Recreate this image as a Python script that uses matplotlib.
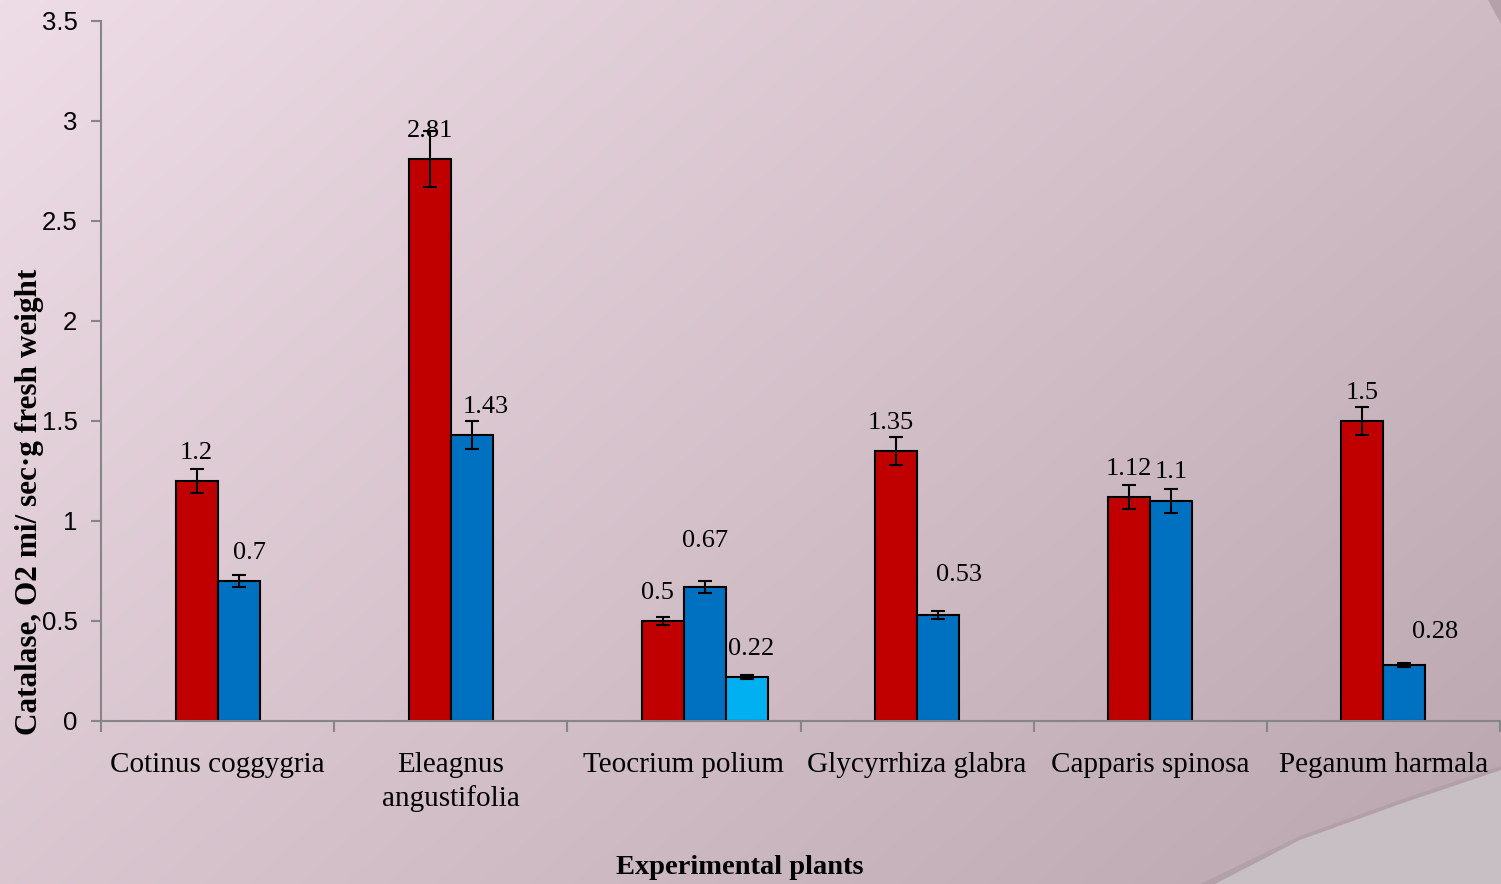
import numpy as np
import matplotlib
matplotlib.use('Agg')
import matplotlib.pyplot as plt
from matplotlib.patches import Polygon

plants = ['Cotinus coggygria', 'Eleagnus\nangustifolia', 'Teocrium polium',
          'Glycyrrhiza glabra', 'Capparis spinosa', 'Peganum harmala']
series1 = [1.2, 2.81, 0.5, 1.35, 1.12, 1.5]
series2 = [0.7, 1.43, 0.67, 0.53, 1.1, 0.28]
series3 = [None, None, 0.22, None, None, None]
err1 = [0.06, 0.14, 0.02, 0.07, 0.06, 0.07]
err2 = [0.03, 0.07, 0.03, 0.02, 0.06, 0.01]
err3 = [None, None, 0.01, None, None, None]
yticks = [0, 0.5, 1, 1.5, 2, 2.5, 3, 3.5]
ytick_labels = ['0', '0.5', '1', '1.5', '2', '2.5', '3', '3.5']

serif = ['Liberation Serif', 'DejaVu Serif']
sans = ['Liberation Sans', 'DejaVu Sans']

fig = plt.figure(figsize=(15.01, 8.84), dpi=100)

# background gradient
bg = fig.add_axes([0, 0, 1, 1], zorder=-5)
gx, gy = np.meshgrid(np.linspace(0, 1, 300), np.linspace(0, 1, 200))
t = np.clip(0.6 * gx + 0.4 * gy, 0, 1)
c0 = np.array([238, 220, 230]) / 255
c1 = np.array([186, 166, 174]) / 255
img = c0[None, None, :] * (1 - t[..., None]) + c1[None, None, :] * t[..., None]
bg.imshow(img, extent=[0, 1, 0, 1], aspect='auto', origin='upper')
# page curl in the bottom right corner
shadow = Polygon([[1200 / 1501, 0], [1300 / 1501, 48 / 884], [1400 / 1501, 84 / 884],
                  [1, 118 / 884], [1, 0]], closed=True, facecolor='#a8969e',
                  edgecolor='none', alpha=0.5)
bg.add_patch(shadow)
curl = Polygon([[1215 / 1501, 0], [1300 / 1501, 44 / 884], [1400 / 1501, 80 / 884],
                [1, 114 / 884], [1, 0]], closed=True, facecolor='#c7bfc3', edgecolor='none')
bg.add_patch(curl)
corner = Polygon([[1488 / 1501, 1], [1501 / 1501, 1], [1, 860 / 884]], closed=True,
                 facecolor='#9c8a93', edgecolor='none', alpha=0.5)
bg.add_patch(corner)
bg.set_xlim(0, 1)
bg.set_ylim(0, 1)
bg.axis('off')

ax = fig.add_axes([101 / 1501, 163 / 884, 1399 / 1501, 700 / 884])
ax.patch.set_alpha(0)

x = np.arange(len(plants))
w = 0.18
ekw = dict(ecolor='black', capsize=5, elinewidth=1.5, capthick=1.5)
for i in range(len(plants)):
    ax.bar(x[i] - w, series1[i], w, align='edge', color='#C00000', edgecolor='black',
           lw=1.5, yerr=err1[i], error_kw=ekw)
    ax.bar(x[i], series2[i], w, align='edge', color='#0070C0', edgecolor='black',
           lw=1.5, yerr=err2[i], error_kw=ekw)
    if series3[i] is not None:
        ax.bar(x[i] + w, series3[i], w, align='edge', color='#00B0F0', edgecolor='black',
               lw=1.5, yerr=err3[i], error_kw=ekw)

# data labels (offsets in points)
off1 = [(0, 20), (0, 20), (-4, 20), (-4, 20), (0, 20), (0, 20)]
off2 = [(8, 20), (10, 20), (0, 33), (15, 29), (0, 21), (22, 24)]
for i in range(len(plants)):
    ax.annotate(f'{series1[i]:g}', (x[i] - w / 2, series1[i]), xytext=off1[i],
                textcoords='offset points', ha='center', va='center',
                fontsize=19, family=serif)
    ax.annotate(f'{series2[i]:g}', (x[i] + w / 2, series2[i]), xytext=off2[i],
                textcoords='offset points', ha='center', va='center',
                fontsize=19, family=serif)
    if series3[i] is not None:
        ax.annotate(f'{series3[i]:g}', (x[i] + 1.5 * w, series3[i]), xytext=(3, 20),
                    textcoords='offset points', ha='center', va='center',
                    fontsize=19, family=serif)

ax.set_xlim(-0.5, len(plants) - 0.5)
ax.set_ylim(0, 3.5)
ax.set_yticks(yticks)
ax.set_yticklabels(ytick_labels, family=sans, fontsize=18.5)
ax.set_xticks(np.arange(len(plants) + 1) - 0.5)
ax.set_xticklabels([])
ax.set_xticks(x, minor=True)
ax.set_xticklabels(plants, minor=True, family=serif, fontsize=21, linespacing=1.35, va='top')
ax.tick_params(axis='x', which='minor', length=0, pad=22)
ax.tick_params(axis='x', which='major', length=8, color='#868686', width=1.5)
ax.tick_params(axis='y', length=7, color='#868686', width=1.5, pad=10)
for s in ['top', 'right']:
    ax.spines[s].set_visible(False)
for s in ['left', 'bottom']:
    ax.spines[s].set_color('#868686')
    ax.spines[s].set_linewidth(1.5)

ax.set_ylabel('Catalase, O2 mi/ sec·g fresh weight', family=serif, fontsize=22.5,
              fontweight='bold')
ax.yaxis.set_label_coords(-0.041, 0.313)
fig.text(740 / 1501, 1 - 867 / 884, 'Experimental plants', family=serif, fontsize=20.5,
         fontweight='bold', ha='center', va='center')

fig.savefig('out.png', dpi=100)
